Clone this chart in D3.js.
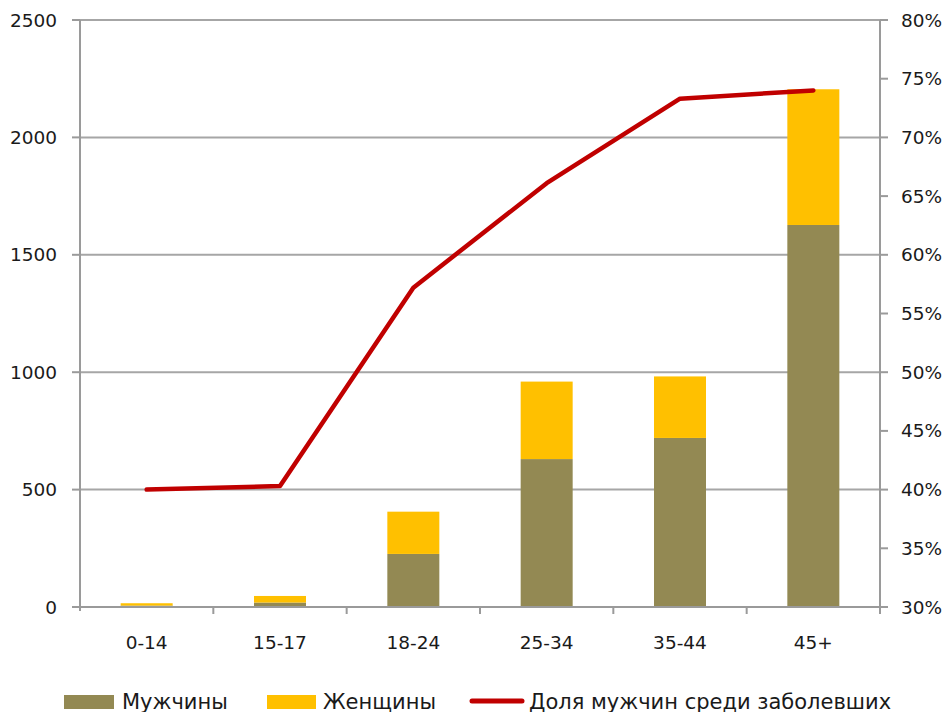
<!DOCTYPE html>
<html>
<head>
<meta charset="utf-8">
<script src="https://cdn.jsdelivr.net/npm/d3@7"></script>
<style>
  body { margin: 0; background: #fff; }
  text { font-family: "DejaVu Sans", sans-serif; fill: #1a1a1a; }
</style>
</head>
<body>
<svg width="947" height="712"></svg>
<script>
// данные
var categories = ["0-14", "15-17", "18-24", "25-34", "35-44", "45+"];
var men = [6, 19, 226, 630, 720, 1627];
var women = [10, 28, 180, 330, 262, 578];
var menShare = [40.0, 40.3, 57.2, 66.1, 73.3, 74.0];
var leftTicks = [0, 500, 1000, 1500, 2000, 2500];
var rightTicks = [30, 35, 40, 45, 50, 55, 60, 65, 70, 75, 80];
var seriesNames = ["Мужчины", "Женщины", "Доля мужчин среди заболевших"];

var svg = d3.select("svg");
var plotLeft = 80, plotRight = 880, plotTop = 20, plotBottom = 607;
var gridColor = "#a6a6a6";
var axisColor = "#9a9a9a";
var tickFont = 18.5;
var legendFont = 21;

var x = d3.scaleBand().domain(categories).range([plotLeft, plotRight]).paddingInner(0.61).paddingOuter(0.305);
var xTicks = d3.scaleBand().domain(categories).range([plotLeft, plotRight]);
var y = d3.scaleLinear().domain([0, 2500]).range([plotBottom, plotTop]);
var y2 = d3.scaleLinear().domain([30, 80]).range([plotBottom, plotTop]);

// сетка
svg.append("g").selectAll("line").data(leftTicks).enter().append("line")
  .attr("x1", plotLeft).attr("x2", plotRight)
  .attr("y1", function(d) { return y(d); }).attr("y2", function(d) { return y(d); })
  .attr("stroke", gridColor).attr("stroke-width", 2);

// столбцы
var rows = categories.map(function(c, i) { return {cat: c, men: men[i], women: women[i]}; });
var stack = d3.stack().keys(["men", "women"])(rows);
var colors = {men: "#938953", women: "#ffc000"};
svg.append("g").selectAll("g").data(stack).enter().append("g")
  .attr("fill", function(d) { return colors[d.key]; })
  .selectAll("rect").data(function(d) { return d; }).enter().append("rect")
  .attr("x", function(d) { return x(d.data.cat); })
  .attr("width", x.bandwidth())
  .attr("y", function(d) { return y(d[1]); })
  .attr("height", function(d) { return y(d[0]) - y(d[1]); });

// оси
svg.append("line").attr("x1", plotLeft).attr("x2", plotLeft).attr("y1", plotTop).attr("y2", plotBottom + 4)
  .attr("stroke", axisColor).attr("stroke-width", 2);
svg.append("line").attr("x1", plotRight).attr("x2", plotRight).attr("y1", plotTop).attr("y2", plotBottom + 7)
  .attr("stroke", axisColor).attr("stroke-width", 2);
svg.append("line").attr("x1", plotLeft).attr("x2", plotRight).attr("y1", plotBottom).attr("y2", plotBottom)
  .attr("stroke", axisColor).attr("stroke-width", 2);

// засечки
svg.append("g").selectAll("line").data(leftTicks).enter().append("line")
  .attr("x1", plotLeft - 8).attr("x2", plotLeft)
  .attr("y1", function(d) { return y(d); }).attr("y2", function(d) { return y(d); })
  .attr("stroke", axisColor).attr("stroke-width", 2);
svg.append("g").selectAll("line").data(rightTicks).enter().append("line")
  .attr("x1", plotRight).attr("x2", plotRight + 8)
  .attr("y1", function(d) { return y2(d); }).attr("y2", function(d) { return y2(d); })
  .attr("stroke", axisColor).attr("stroke-width", 2);
svg.append("g").selectAll("line").data(categories.slice(1)).enter().append("line")
  .attr("x1", function(d) { return xTicks(d); }).attr("x2", function(d) { return xTicks(d); })
  .attr("y1", plotBottom).attr("y2", plotBottom + 7)
  .attr("stroke", axisColor).attr("stroke-width", 2);

// подписи
svg.append("g").selectAll("text").data(leftTicks).enter().append("text")
  .attr("x", 57).attr("y", function(d) { return y(d) + 6.5; })
  .attr("text-anchor", "end").attr("font-size", tickFont)
  .text(function(d) { return d; });
svg.append("g").selectAll("text").data(rightTicks).enter().append("text")
  .attr("x", 901).attr("y", function(d) { return y2(d) + 6.5; })
  .attr("font-size", tickFont)
  .text(function(d) { return d + "%"; });
svg.append("g").selectAll("text").data(categories).enter().append("text")
  .attr("x", function(d) { return xTicks(d) + xTicks.bandwidth() / 2; })
  .attr("y", 649).attr("text-anchor", "middle").attr("font-size", tickFont)
  .text(function(d) { return d; });

// линия доли
var line = d3.line()
  .x(function(d, i) { return xTicks(categories[i]) + xTicks.bandwidth() / 2; })
  .y(function(d) { return y2(d); });
svg.append("path").datum(menShare)
  .attr("d", line).attr("fill", "none")
  .attr("stroke", "#c00000").attr("stroke-width", 4.5)
  .attr("stroke-linecap", "round").attr("stroke-linejoin", "round");

// легенда
var legend = svg.append("g");
legend.append("rect").attr("x", 64).attr("y", 695).attr("width", 50).attr("height", 14).attr("fill", colors.men);
legend.append("text").attr("x", 122).attr("y", 709).attr("font-size", legendFont).text(seriesNames[0]);
legend.append("rect").attr("x", 267).attr("y", 695).attr("width", 49).attr("height", 14).attr("fill", colors.women);
legend.append("text").attr("x", 323).attr("y", 709).attr("font-size", legendFont).text(seriesNames[1]);
legend.append("line").attr("x1", 472).attr("x2", 522).attr("y1", 701).attr("y2", 701)
  .attr("stroke", "#c00000").attr("stroke-width", 5).attr("stroke-linecap", "round");
legend.append("text").attr("x", 529).attr("y", 709).attr("font-size", legendFont).text(seriesNames[2]);
</script>
</body>
</html>
